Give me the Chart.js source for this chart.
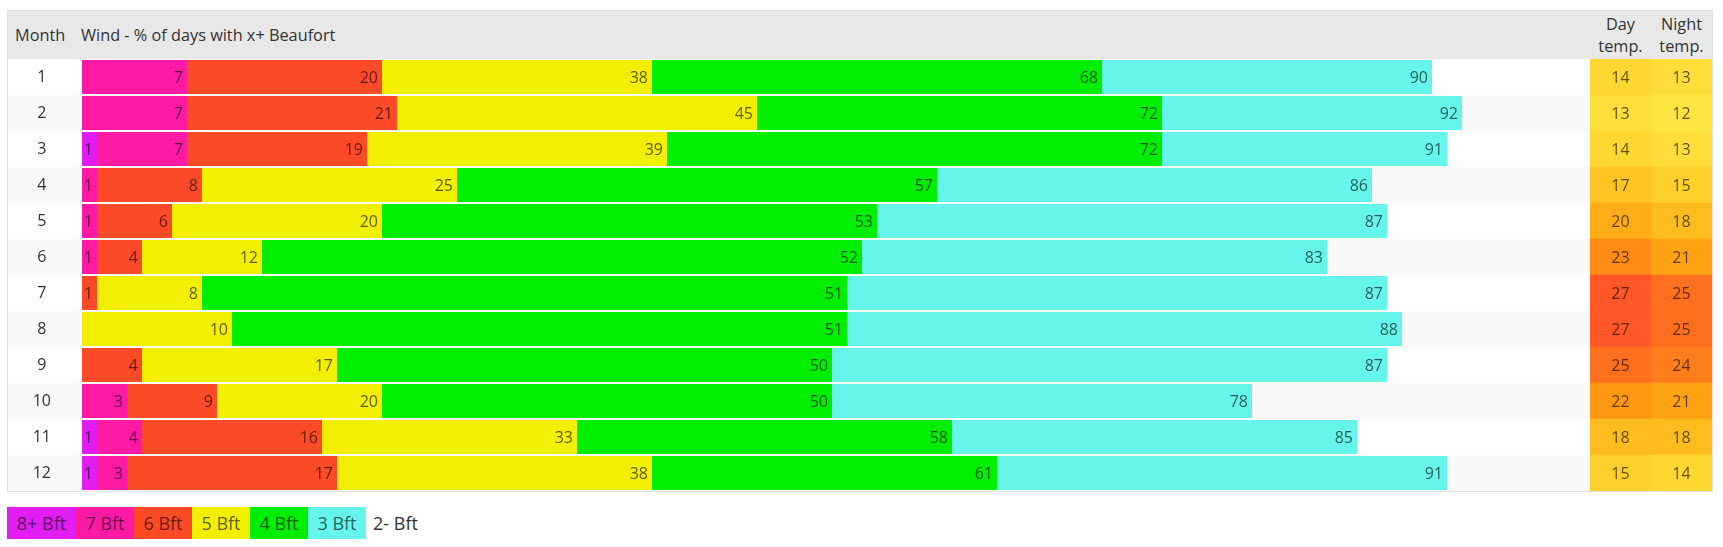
<!DOCTYPE html>
<html>
<head>
<meta charset="utf-8">
<script src="https://cdn.jsdelivr.net/npm/chart.js@4.4.1/dist/chart.umd.min.js"></script>
<style>
  body { margin: 0; background: #fff; font-family: 'Open Sans', sans-serif; color: #333; }
  #frame { position: absolute; left: 7px; top: 10px; width: 1704px; height: 480px; border: 1px solid #e2e2e2; }
  #head { position: absolute; left: 8px; top: 11px; width: 1704px; height: 48px; background: #e8e8e8; font-size: 16.3px; }
  #head div { position: absolute; white-space: nowrap; }
  .one { top: 0; line-height: 48px; }
  .two { top: 2px; width: 61px; text-align: center; line-height: 22px; }
  canvas { position: absolute; }
  #legend { position: absolute; left: 7px; top: 507px; display: flex; font-size: 18px; line-height: 32px; }
  #legend span { text-align: center; white-space: nowrap; }
</style>
</head>
<body>
<div id="frame"></div>
<div id="head">
  <div class="one" style="left:7px">Month</div>
  <div class="one" style="left:73px">Wind - % of days with x+ Beaufort</div>
  <div class="two" style="left:1582px">Day<br>temp.</div>
  <div class="two" style="left:1643px">Night<br>temp.</div>
</div>
<canvas id="wind" width="1582" height="432" style="left:8px;top:59px"></canvas>
<canvas id="temp" width="122" height="432" style="left:1590px;top:59px"></canvas>
<div id="legend"></div>
<script>
// % of days with at least x Beaufort, per month
const months = ['1', '2', '3', '4', '5', '6', '7', '8', '9', '10', '11', '12'];
const bft8 = [0, 0, 1, 0, 0, 0, 0, 0, 0, 0, 1, 1];
const bft7 = [7, 7, 7, 1, 1, 1, 0, 0, 0, 3, 4, 3];
const bft6 = [20, 21, 19, 8, 6, 4, 1, 0, 4, 9, 16, 17];
const bft5 = [38, 45, 39, 25, 20, 12, 8, 10, 17, 20, 33, 38];
const bft4 = [68, 72, 72, 57, 53, 52, 51, 51, 50, 50, 58, 61];
const bft3 = [90, 92, 91, 86, 87, 83, 87, 88, 87, 78, 85, 91];
const dayTemp = [14, 13, 14, 17, 20, 23, 27, 27, 25, 22, 18, 15];
const nightTemp = [13, 12, 13, 15, 18, 21, 25, 25, 24, 21, 18, 14];
const legendLabels = ['8+ Bft', '7 Bft', '6 Bft', '5 Bft', '4 Bft', '3 Bft', '2- Bft'];

const bftColors = ['#e11df2', '#ff1aa6', '#ff4a28', '#f2ef00', '#00ef00', '#66f5eb', null];
const labelColor = 'rgba(0,0,0,0.62)';

// legend
const legendWidths = [69, 58, 58, 58, 58, 58];
const legend = document.getElementById('legend');
legendLabels.forEach((txt, i) => {
  const s = document.createElement('span');
  s.textContent = txt;
  if (bftColors[i]) {
    s.style.background = bftColors[i];
    s.style.color = labelColor;
    s.style.width = legendWidths[i] + 'px';
  } else {
    s.style.color = '#333';
    s.style.paddingLeft = '7px';
  }
  legend.appendChild(s);
});

// stacked segments from the cumulative values
const levels = [bft8, bft7, bft6, bft5, bft4, bft3];
const windSets = levels.map((cum, i) => ({
  label: legendLabels[i],
  data: cum.map((v, j) => v - (i ? levels[i - 1][j] : 0)),
  cumulative: cum,
  backgroundColor: bftColors[i],
  borderWidth: 0,
  barPercentage: 34 / 36,
  categoryPercentage: 1
}));

const rowStripes = {
  id: 'rowStripes',
  beforeDraw(chart) {
    const {ctx, scales: {y}} = chart;
    const band = y.getPixelForValue(1) - y.getPixelForValue(0);
    ctx.save();
    ctx.fillStyle = '#f9f9f9';
    months.forEach((m, i) => {
      if (i % 2) ctx.fillRect(0, y.getPixelForValue(i) - band / 2, chart.width, band);
    });
    ctx.restore();
  }
};

const windLabels = {
  id: 'windLabels',
  afterDatasetsDraw(chart) {
    const ctx = chart.ctx;
    ctx.save();
    ctx.font = '16px "Open Sans"';
    ctx.fillStyle = labelColor;
    ctx.textAlign = 'right';
    ctx.textBaseline = 'middle';
    chart.data.datasets.forEach((ds, i) => {
      chart.getDatasetMeta(i).data.forEach((bar, j) => {
        if (ds.data[j] > 0) ctx.fillText(ds.cumulative[j], bar.x - 4, bar.y + 1);
      });
    });
    ctx.restore();
  }
};

new Chart(document.getElementById('wind'), {
  type: 'bar',
  data: { labels: months, datasets: windSets },
  options: {
    indexAxis: 'y',
    responsive: false,
    animation: false,
    layout: { padding: { right: 8 } },
    plugins: { legend: { display: false }, tooltip: { enabled: false } },
    scales: {
      x: { stacked: true, min: 0, max: 100, display: false },
      y: {
        stacked: true,
        grid: { display: false, drawTicks: false },
        border: { display: false },
        ticks: { crossAlign: 'center', padding: 31, color: '#333', font: { family: 'Open Sans', size: 16 } },
        afterFit(s) { s.width = 74; s.paddingTop = 0; s.paddingBottom = 0; }
      }
    }
  },
  plugins: [rowStripes, windLabels]
});

// temperature heat cells
const tempStops = [[12, [255, 229, 68]], [14, [255, 215, 49]], [17, [255, 195, 34]], [20, [255, 173, 22]],
                   [22, [255, 151, 18]], [25, [255, 112, 30]], [27, [255, 88, 38]]];
function tempColor(t) {
  for (let k = 1; k < tempStops.length; k++) {
    const [t0, c0] = tempStops[k - 1], [t1, c1] = tempStops[k];
    if (t <= t1 || k === tempStops.length - 1) {
      const f = Math.max(0, Math.min(1, (t - t0) / (t1 - t0)));
      return 'rgb(' + c0.map((c, n) => Math.round(c + (c1[n] - c) * f)).join(',') + ')';
    }
  }
}

const tempLabels = {
  id: 'tempLabels',
  afterDatasetsDraw(chart) {
    const ctx = chart.ctx;
    ctx.save();
    ctx.font = '16px "Open Sans"';
    ctx.fillStyle = labelColor;
    ctx.textAlign = 'center';
    ctx.textBaseline = 'middle';
    chart.data.datasets.forEach((ds, i) => {
      chart.getDatasetMeta(i).data.forEach((cell, j) => {
        ctx.fillText(ds.temps[j], (cell.base + cell.x) / 2, cell.y + 1);
      });
    });
    ctx.restore();
  }
};

new Chart(document.getElementById('temp'), {
  type: 'bar',
  data: {
    labels: months,
    datasets: [dayTemp, nightTemp].map((temps, i) => ({
      label: i ? 'Night temp.' : 'Day temp.',
      temps: temps,
      data: temps.map(() => 1),
      backgroundColor: temps.map(tempColor),
      borderWidth: 0,
      barPercentage: 1,
      categoryPercentage: 1
    }))
  },
  options: {
    indexAxis: 'y',
    responsive: false,
    animation: false,
    plugins: { legend: { display: false }, tooltip: { enabled: false } },
    scales: {
      x: { stacked: true, min: 0, max: 2, display: false },
      y: { stacked: true, display: false }
    }
  },
  plugins: [tempLabels]
});
</script>
</body>
</html>
